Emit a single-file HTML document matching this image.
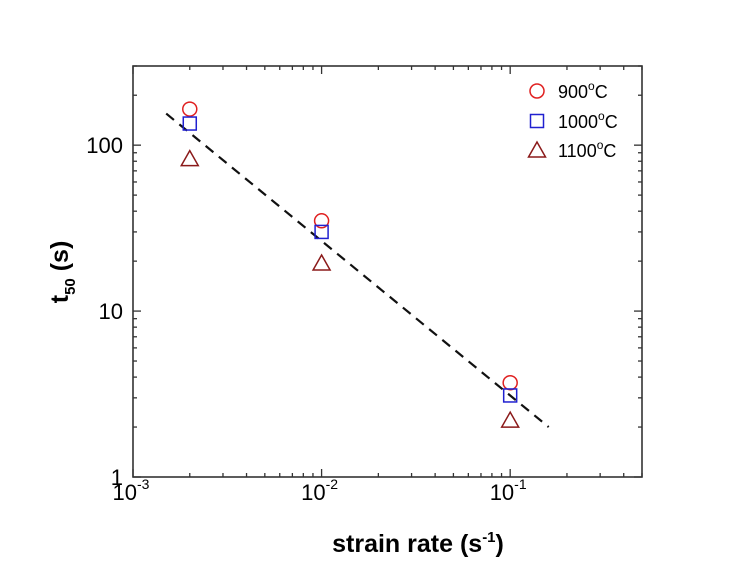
<!DOCTYPE html>
<html><head><meta charset="utf-8"><style>
body{margin:0;background:#fff}
svg text{font-family:"Liberation Sans",Arial,sans-serif}
</style></head><body>
<svg id="c" width="748" height="571" viewBox="0 0 748 571">
<g id="g"></g>
</svg>
<script>
const xs=[0.002,0.01,0.1];
const s900=[165,35,3.7];
const s1000=[135,30,3.1];
const s1100=[83,19.5,2.2];
const fitX=[0.0015,0.16];
const fitY=[155,2.0];
const xTicks=[0.001,0.01,0.1];
const xTickExp=["-3","-2","-1"];
const yTicks=[1,10,100];
const yTickLabels=["1","10","100"];
const L=133,R=642,T=66,B=477;
const xmin=-3,xmax=Math.log10(0.5),ymin=0,ymax=Math.log10(300);
const X=v=>L+(Math.log10(v)-xmin)/(xmax-xmin)*(R-L);
const Y=v=>B-(Math.log10(v)-ymin)/(ymax-ymin)*(B-T);
const NS="http://www.w3.org/2000/svg";
const g=document.getElementById('g');
function mk(t,a,txt){const e=document.createElementNS(NS,t);for(const k in a)e.setAttribute(k,a[k]);if(txt!==undefined)e.textContent=txt;g.appendChild(e);return e;}
let e;
e=mk('rect',{x:L,y:T,width:R-L,height:B-T,fill:'none',stroke:'#333','stroke-width':1.6});


for(let d=-3;d<=-1;d++){for(let m=1;m<=9;m++){const v=m*Math.pow(10,d);if(v>0.5)break;const x=X(v);const len=m===1?8:4;
e=mk('line',{x1:x,y1:B,x2:x,y2:B-len,stroke:'#333','stroke-width':1.3});


e=mk('line',{x1:x,y1:T,x2:x,y2:T+len,stroke:'#333','stroke-width':1.3});

}}
for(let i=0;i<3;i++){const x=X(xTicks[i]);
e=mk('text',{x:x+4,y:B+23,'font-size':22,'text-anchor':'end'},'10');


e=mk('text',{x:x+4,y:B+12,'font-size':14},xTickExp[i]);

}
for(let d=0;d<=2;d++){for(let m=1;m<=9;m++){const v=m*Math.pow(10,d);if(v>300)break;const y=Y(v);const len=m===1?8:4;
e=mk('line',{x1:L,y1:y,x2:L+len,y2:y,stroke:'#333','stroke-width':1.3});


e=mk('line',{x1:R,y1:y,x2:R-len,y2:y,stroke:'#333','stroke-width':1.3});

}}
for(let i=0;i<3;i++){
e=mk('text',{x:L-10,y:Y(yTicks[i])+8,'font-size':22,'text-anchor':'end'},yTickLabels[i]);

}
e=mk('text',{x:418,y:552,'font-size':25,'font-weight':'bold','text-anchor':'middle'});
e.innerHTML='strain rate (s<tspan dy="-10" font-size="15">-1</tspan><tspan dy="10">)</tspan>';


e=mk('text',{transform:'translate(68,272) rotate(-90)','font-size':25,'font-weight':'bold','text-anchor':'middle'});
e.innerHTML='t<tspan dy="7" font-size="15">50</tspan><tspan dy="-7"> (s)</tspan>';


e=mk('line',{x1:X(fitX[0]),y1:Y(fitY[0]),x2:X(fitX[1]),y2:Y(fitY[1]),stroke:'#111','stroke-width':2.2,'stroke-dasharray':'10,7'});


function circ(x,y,n){e=mk('circle',{cx:x,cy:y,r:7,fill:'none',stroke:'#e02020','stroke-width':1.5});}
function sq(x,y,n){e=mk('rect',{x:x-6.5,y:y-6.5,width:13,height:13,fill:'none',stroke:'#2020d0','stroke-width':1.5});}
function tri(x,y,n){e=mk('polygon',{points:`${x},${y-8} ${x-8.5},${y+7} ${x+8.5},${y+7}`,fill:'none',stroke:'#8b1a1a','stroke-width':1.5});}
for(let i=0;i<xs.length;i++){
circ(X(xs[i]),Y(s900[i]),'point-900c');
sq(X(xs[i]),Y(s1000[i]),'point-1000c');
tri(X(xs[i]),Y(s1100[i]),'point-1100c');}
circ(537,91,'legend-marker-900c');sq(537,121,'legend-marker-1000c');tri(537,150,'legend-marker-1100c');
const labs=['900','1000','1100'],ly=[98,128,157];
for(let i=0;i<3;i++){e=mk('text',{x:558,y:ly[i],'font-size':18});
e.innerHTML=labs[i]+'<tspan dy="-8" font-size="12">o</tspan><tspan dy="8">C</tspan>';

}
</script>
</body></html>
